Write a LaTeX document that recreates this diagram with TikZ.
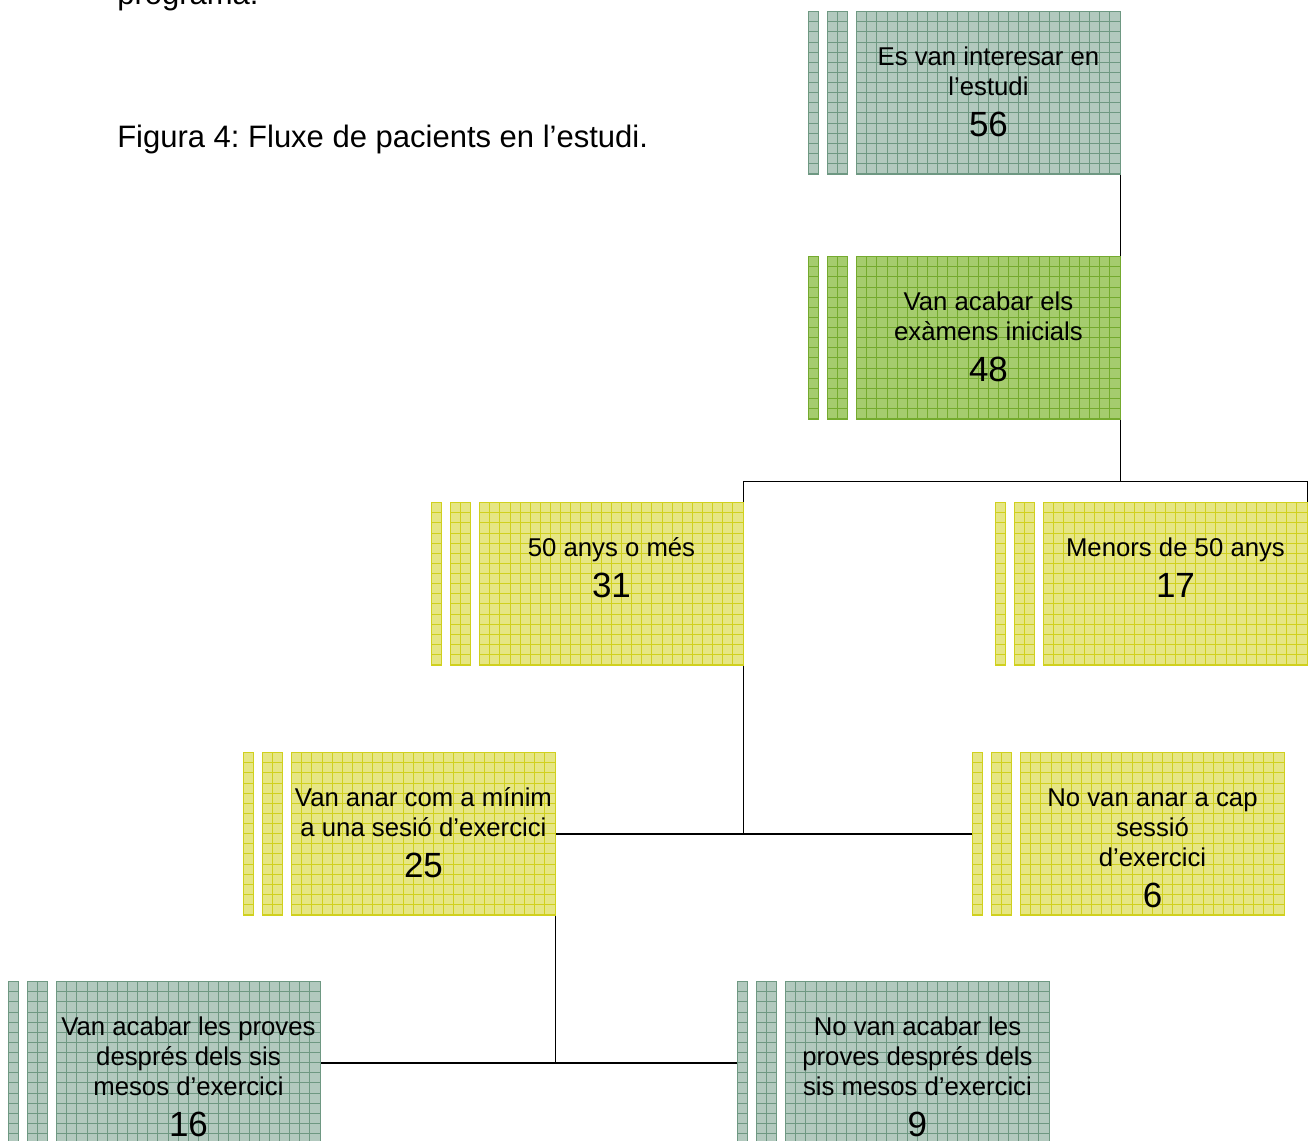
\documentclass[tikz,border=0pt]{standalone}
\usepackage{fontspec}
\setmainfont{Liberation Sans}
\frenchspacing
\definecolor{tealfill}{RGB}{178,201,190}
\definecolor{tealline}{RGB}{110,152,130}
\definecolor{greenfill}{RGB}{165,204,110}
\definecolor{greenline}{RGB}{116,170,46}
\definecolor{yellowfill}{RGB}{230,230,132}
\definecolor{yellowline}{RGB}{208,208,30}
\tikzset{
  cell/.style={draw=#1line, fill=#1fill, line width=0.7pt, inner sep=0pt,
    minimum height=122.25pt,
    path picture={
      \foreach \k in {1,...,27}{\draw[#1line, line width=0.55pt]
        ([xshift=\k*7.6pt]path picture bounding box.south west) --
        ([xshift=\k*7.6pt]path picture bounding box.north west);}
      \foreach \k in {1,...,17}{\draw[#1line, line width=0.55pt]
        ([yshift=-\k*7.6pt]path picture bounding box.north west) --
        ([yshift=-\k*7.6pt]path picture bounding box.north east);}
    }},
  boxtext/.style={align=center, inner sep=0pt, text=black,
    font=\fontsize{19.3pt}{22.5pt}\selectfont},
  conn/.style={draw=black, line width=0.8pt},
  caption/.style={inner sep=0pt, font=\fontsize{23.25pt}{28pt}\selectfont}
}
\newcommand\num[1]{{\fontsize{26.25pt}{30pt}\selectfont #1}}
% #1 name, #2 x, #3 y, #4 colour set, #5 baseline offset of the last line, #6 text
\newcommand\flowbox[6]{%
  \node[cell=#4, minimum width=7.5pt, anchor=north west] (#1s1) at (#2-48,#3) {};
  \node[cell=#4, minimum width=15pt, anchor=north west] (#1s2) at (#2-29,#3) {};
  \node[cell=#4, minimum width=198pt, anchor=north west] (#1) at (#2,#3) {};
  \node[boxtext, anchor=base] (#1t) at ([yshift=-#5]#1.north) {#6};
}
\begin{document}
\begin{tikzpicture}[x=0.75pt, y=-0.75pt]
\useasboundingbox (0,0) rectangle (1309,1140);
\clip (0,0) rectangle (1309,1140);
\node[caption, anchor=base west] (prog) at (117,4) {programa.};
\node[caption, anchor=base west] (cap) at (117,147) {Figura 4: Fluxe de pacients en l’estudi.};

\flowbox{b1}{856}{11}{teal}{93.75pt}{Es van interesar en\\l’estudi\\[8.25pt]\num{56}}
\flowbox{b2}{856}{256}{green}{93.75pt}{Van acabar els\\exàmens inicials\\[8.25pt]\num{48}}
\flowbox{b3}{479}{502}{yellow}{71.25pt}{50 anys o més\\[8.25pt]\num{31}}
\flowbox{b4}{1043}{502}{yellow}{71.25pt}{Menors de 50 anys\\[8.25pt]\num{17}}
\flowbox{b5}{291}{752}{yellow}{93.75pt}{Van anar com a mínim\\a una sesió d’exercici\\[8.25pt]\num{25}}
\flowbox{b6}{1020}{752}{yellow}{116.25pt}{No van anar a cap\\sessió\\d’exercici\\[8.25pt]\num{6}}
\flowbox{b7}{56}{981}{teal}{116.25pt}{Van acabar les proves\\després dels sis\\mesos d’exercici\\[8.25pt]\num{16}}
\flowbox{b8}{785}{981}{teal}{116.25pt}{No van acabar les\\proves després dels\\sis mesos d’exercici\\[8.25pt]\num{9}}

\draw[conn] (b1.south east) -- (b2.north east);
\draw[conn] (b2.south east) -- ++(0,62) coordinate (j1);
\draw[conn] (b3.north east) |- (j1) -| (b4.north east);
\draw[conn] (b5.east) -- (b6s1.west);
\draw[conn] (b3.south east) -- (b3.south east |- b5.east);
\draw[conn] (b7.east) -- (b8s1.west);
\draw[conn] (b5.south east) -- (b5.south east |- b7.east);
\end{tikzpicture}
\end{document}
